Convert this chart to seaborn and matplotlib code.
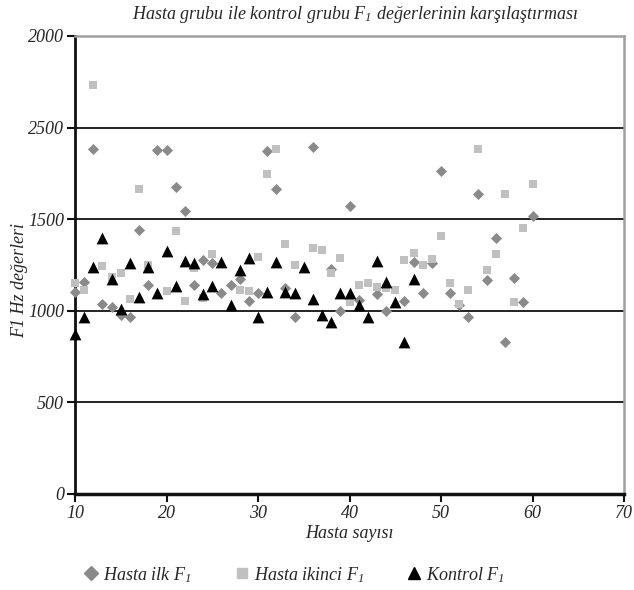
import matplotlib
matplotlib.use("Agg")
import matplotlib.pyplot as plt
import seaborn as sns
import pandas as pd
from matplotlib.lines import Line2D

# ---- data ----
ilk_x = [10, 11, 12, 13, 14, 15, 16, 17, 18, 19, 20, 21, 22, 23, 24, 25, 26, 27, 28, 29,
         30, 31, 32, 33, 34, 36, 38, 39, 40, 41, 43, 44, 46, 47, 48, 49, 50, 51, 52, 53,
         54, 55, 56, 57, 58, 59, 60]
ilk_y = [1100, 1155, 1885, 1035, 1022, 976, 964, 1443, 1141, 1878, 1876, 1674, 1545, 1141,
         1279, 1261, 1097, 1141, 1175, 1052, 1095, 1874, 1665, 1123, 968, 1892, 1227, 998,
         1573, 1057, 1093, 998, 1052, 1268, 1097, 1259, 1765, 1095, 1032, 968, 1636, 1168,
         1396, 828, 1177, 1050, 1517]

ikinci_x = [10, 11, 12, 13, 14, 15, 16, 17, 18, 20, 21, 22, 23, 24, 25, 28, 29, 30, 31, 32,
            33, 34, 36, 37, 38, 39, 40, 41, 42, 43, 44, 45, 46, 47, 48, 49, 50, 51, 52, 53,
            54, 55, 56, 57, 58, 59, 60]
ikinci_y = [1154, 1115, 2233, 1245, 1186, 1209, 1063, 1665, 1252, 1108, 1436, 1054, 1232,
            1068, 1310, 1114, 1110, 1295, 1747, 1883, 1363, 1250, 1341, 1332, 1208, 1287,
            1048, 1141, 1150, 1132, 1123, 1114, 1277, 1317, 1250, 1281, 1408, 1150, 1037,
            1114, 1883, 1223, 1308, 1636, 1050, 1450, 1690]

kontrol_x = list(range(10, 48))
kontrol_y = [872, 968, 1238, 1396, 1174, 1010, 1259, 1074, 1238, 1095, 1328, 1137, 1274,
             1259, 1092, 1137, 1268, 1032, 1223, 1287, 964, 1101, 1268, 1104, 1095, 1238,
             1064, 977, 937, 1095, 1095, 1032, 964, 1274, 1159, 1050, 831, 1174]

series_names = ["Hasta ilk F$_1$", "Hasta ikinci F$_1$", "Kontrol F$_1$"]
x_ticks = [10, 20, 30, 40, 50, 60, 70]
y_ticks = [0, 500, 1000, 1500, 2000, 2500]
y_tick_labels = ["0", "500", "1000", "1500", "2500", "2000"]

title = "Hasta grubu ile kontrol grubu F$_1$ değerlerinin karşılaştırması"
x_label = "Hasta sayısı"
y_label = "F1 Hz değerleri"

# ---- build table ----
df = pd.concat([
    pd.DataFrame({"x": ilk_x, "y": ilk_y, "seri": series_names[0]}),
    pd.DataFrame({"x": ikinci_x, "y": ikinci_y, "seri": series_names[1]}),
    pd.DataFrame({"x": kontrol_x, "y": kontrol_y, "seri": series_names[2]}),
], ignore_index=True)

sns.set_theme(style="white")
plt.rcParams["font.family"] = ["Liberation Serif", "DejaVu Serif"]
plt.rcParams["font.style"] = "italic"
plt.rcParams["mathtext.fontset"] = "custom"
plt.rcParams["mathtext.rm"] = "Liberation Serif:italic"
plt.rcParams["mathtext.it"] = "Liberation Serif:italic"
plt.rcParams["mathtext.default"] = "it"

FS = 13

colors = {series_names[0]: "#8a8a8a", series_names[1]: "#c0c0c0", series_names[2]: "#000000"}
markers = {series_names[0]: "D", series_names[1]: "s", series_names[2]: "^"}
sizes = {series_names[0]: 32, series_names[1]: 30, series_names[2]: 72}

fig = plt.figure(figsize=(6.34, 5.9), dpi=100)
ax = fig.add_axes([75 / 634, 96 / 590, 549 / 634, 458 / 590])

for name in series_names:
    sub = df[df["seri"] == name]
    sns.scatterplot(data=sub, x="x", y="y", ax=ax, color=colors[name],
                    marker=markers[name], s=sizes[name], linewidth=0, legend=False,
                    zorder=3, clip_on=False)

ax.set_xlim(10, 70)
ax.set_ylim(0, 2500)
ax.set_xticks(x_ticks)
ax.set_xticklabels([str(t) for t in x_ticks])
ax.set_yticks(y_ticks)
ax.set_yticklabels(y_tick_labels)

for v in [500, 1000, 1500, 2000]:
    ax.axhline(v, color="#111111", lw=1.3, zorder=1)

for side in ["top", "right"]:
    ax.spines[side].set_color("#a0a0a0")
    ax.spines[side].set_linewidth(1.8)
ax.spines["left"].set_color("#111111")
ax.spines["left"].set_linewidth(2)
ax.spines["bottom"].set_color("#111111")
ax.spines["bottom"].set_linewidth(2.5)

ax.tick_params(axis="both", which="major", direction="out", length=6, width=1.5,
               color="#111111", labelsize=FS, left=True, bottom=True, pad=2)
for lab in ax.get_xticklabels() + ax.get_yticklabels():
    lab.set_fontstyle("italic")

ax.set_xlabel(x_label, fontsize=FS, style="italic", labelpad=2)
ax.set_ylabel(y_label, fontsize=FS, style="italic")
ax.yaxis.set_label_coords(-0.086, 0.467)

fig.text(0.56, 0.976, title, ha="center", va="center", fontsize=FS, style="italic")

handles = [Line2D([], [], linestyle="none", marker=markers[n], color=colors[n],
                  markersize=(7 if n != series_names[2] else 9), label=n)
           for n in series_names]
fig.legend(handles=handles, loc="center", bbox_to_anchor=(0.463, 0.026), ncol=3,
           frameon=False, fontsize=FS, handletextpad=0.15, columnspacing=2.3,
           handlelength=1.0)

fig.savefig("out.png", dpi=100, facecolor="white")
